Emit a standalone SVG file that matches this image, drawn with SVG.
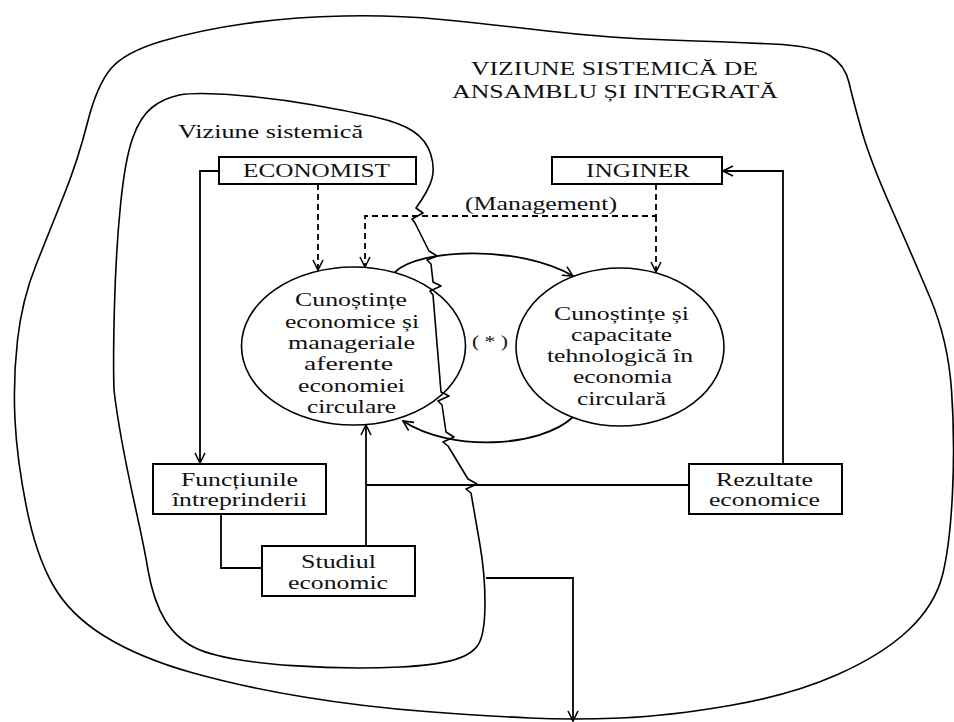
<svg xmlns="http://www.w3.org/2000/svg" width="954" height="722" viewBox="0 0 954 722">
  <style>
    .bound { fill: none; stroke: #000; stroke-width: 1.6; stroke-linejoin: round; }
    .box { fill: #fff; stroke: #000; stroke-width: 2; }
    .oval { fill: none; stroke: #000; stroke-width: 1.6; }
    .line { fill: none; stroke: #000; stroke-width: 1.8; }
    .dash { fill: none; stroke: #000; stroke-width: 1.8; stroke-dasharray: 6 4; }
    text { font-family: "Liberation Serif", "Times New Roman", serif; font-size: 19px; fill: #111; }
    .small { font-size: 16px; }
  </style>
  <defs>
    <marker id="arrow" viewBox="0 0 12 12" refX="11" refY="6" markerWidth="12" markerHeight="12" markerUnits="userSpaceOnUse" orient="auto">
      <path d="M1,1 L11,6 L1,11" fill="none" stroke="#000" stroke-width="1.6" stroke-dasharray="none"/>
    </marker>
  </defs>
  <rect width="954" height="722" fill="#fff"/>

  <!-- outer region: integrated systemic view -->
  <g id="outer-region">
    <path class="bound" d="M 17.5,340 Q 22,300 36,265 Q 50,230 64,195 Q 78,160 87.5,122.5 Q 97,85 111,68.5 Q 125,52 162.5,41 Q 200,30 246,23.5 Q 292,17 343.5,16 Q 395,15 441,19.5 Q 487,24 547.5,31 Q 608,38 669,40 Q 730,42 772.5,44 Q 815,46 830,55.5 Q 845,65 849,82.5 Q 853,100 861.5,130 Q 870,160 891,207.5 Q 912,255 930,297.5 Q 948,340 951.5,390 Q 955,440 952.5,492.5 Q 950,545 942.5,575 Q 935,605 908.5,630 Q 882,655 836.5,675 Q 791,695 730,705.5 Q 669,716 620.5,718 Q 572,720 529.5,718 Q 487,716 426,711.5 Q 365,707 304,697 Q 243,687 191.5,672.5 Q 140,658 105,636.5 Q 70,615 53,585 Q 36,555 26.5,507.5 Q 17,460 15,420 Q 13,380 17.5,340 Z"/>
    <text x="471" y="75" textLength="287" lengthAdjust="spacingAndGlyphs">VIZIUNE SISTEMICĂ DE</text>
    <text x="452" y="98" textLength="326" lengthAdjust="spacingAndGlyphs">ANSAMBLU ȘI INTEGRATĂ</text>
  </g>

  <!-- inner region: systemic view, with break marks where lines cross it -->
  <g id="inner-region">
    <path class="bound" d="M 114,390 Q 113,360 114.5,305 Q 116,250 120.5,205 Q 125,160 132.5,138.5 Q 140,117 152,107.5 Q 164,98 179.5,95 Q 195,92 234.5,95 Q 274,98 313.5,105 Q 353,112 377,117.5 Q 401,123 413.5,131.5 Q 426,140 430.5,153.5 Q 435,167 432,178.5 Q 429,190 416,208 L 423,213 L 412,219 L 415,223 L 429,251 L 437,256 L 427,260 L 431,264 L 433,282 L 441,286 L 430,291 L 433,295 L 441,392 L 449,396 L 438,401 L 442,405 L 446,432 L 454,437 L 443,442 L 448,446 L 468,479 L 477,484 L 466,489 L 471,493 L 480,545 C 486,580 488,630 478,645 C 468,660 440,665 400,667 C 340,670 240,666 200,650 C 170,638 155,610 148,570 C 140,520 122,460 114,390 Z"/>
    <text x="178" y="138" textLength="185" lengthAdjust="spacingAndGlyphs">Viziune sistemică</text>
  </g>

  <!-- connectors -->
  <g id="connectors">
    <!-- ECONOMIST to Funcțiunile întreprinderii -->
    <path class="line" d="M 219,171 L 200,171 L 200,463" marker-end="url(#arrow)"/>
    <!-- Funcțiunile to Studiul economic -->
    <path class="line" d="M 221,514 L 221,568 L 262,568"/>
    <!-- Studiul economic to economic knowledge -->
    <path class="line" d="M 366,546 L 366,425" marker-end="url(#arrow)"/>
    <!-- Rezultate economice feed -->
    <path class="line" d="M 689,485 L 366,485"/>
    <path class="line" d="M 783,464 L 783,171 L 723,171" marker-end="url(#arrow)"/>
    <!-- output leaving the inner region -->
    <path class="line" d="M 486,578 L 573,578 L 573,721" marker-end="url(#arrow)"/>
    <!-- dashed influence lines -->
    <path class="dash" d="M 318,184 L 318,270" marker-end="url(#arrow)"/>
    <path class="dash" d="M 656,184 L 656,216 L 365,216 L 365,267" marker-end="url(#arrow)"/>
    <path class="dash" d="M 656,216 L 656,272" marker-end="url(#arrow)"/>
    <text x="465" y="210" textLength="152" lengthAdjust="spacingAndGlyphs">(Management)</text>
    <!-- exchange between the two knowledge areas -->
    <path class="line" d="M 395,272 C 420,248 520,245 573,276" marker-end="url(#arrow)"/>
    <path class="line" d="M 573,417 C 540,448 450,452 403,421" marker-end="url(#arrow)"/>
    <text class="small" x="472" y="347" textLength="36" lengthAdjust="spacingAndGlyphs">( * )</text>
  </g>

  <g id="economist">
    <rect class="box" x="219" y="157" width="197" height="27"/>
    <text x="243" y="177" textLength="147" lengthAdjust="spacingAndGlyphs">ECONOMIST</text>
  </g>

  <g id="inginer">
    <rect class="box" x="552" y="157" width="170" height="27"/>
    <text x="586" y="177" textLength="104" lengthAdjust="spacingAndGlyphs">INGINER</text>
  </g>

  <g id="economic-knowledge">
    <ellipse class="oval" cx="353.5" cy="346" rx="112" ry="79"/>
    <text x="295" y="306" textLength="112" lengthAdjust="spacingAndGlyphs">Cunoștințe</text>
    <text x="285" y="328" textLength="134" lengthAdjust="spacingAndGlyphs">economice și</text>
    <text x="288" y="349" textLength="127" lengthAdjust="spacingAndGlyphs">manageriale</text>
    <text x="304" y="370" textLength="89" lengthAdjust="spacingAndGlyphs">aferente</text>
    <text x="298" y="392" textLength="107" lengthAdjust="spacingAndGlyphs">economiei</text>
    <text x="307" y="413" textLength="89" lengthAdjust="spacingAndGlyphs">circulare</text>
  </g>

  <g id="technological-knowledge">
    <ellipse class="oval" cx="620" cy="347" rx="104" ry="79"/>
    <text x="554" y="320" textLength="135" lengthAdjust="spacingAndGlyphs">Cunoștințe și</text>
    <text x="571" y="341" textLength="101" lengthAdjust="spacingAndGlyphs">capacitate</text>
    <text x="547" y="362" textLength="146" lengthAdjust="spacingAndGlyphs">tehnologică în</text>
    <text x="573" y="383" textLength="99" lengthAdjust="spacingAndGlyphs">economia</text>
    <text x="577" y="405" textLength="89" lengthAdjust="spacingAndGlyphs">circulară</text>
  </g>

  <g id="functiunile">
    <rect class="box" x="153" y="464" width="173" height="50"/>
    <text x="181" y="486" textLength="117" lengthAdjust="spacingAndGlyphs">Funcțiunile</text>
    <text x="172" y="506" textLength="135" lengthAdjust="spacingAndGlyphs">întreprinderii</text>
  </g>

  <g id="studiul">
    <rect class="box" x="262" y="546" width="153" height="50"/>
    <text x="301" y="568" textLength="75" lengthAdjust="spacingAndGlyphs">Studiul</text>
    <text x="288" y="589" textLength="100" lengthAdjust="spacingAndGlyphs">economic</text>
  </g>

  <g id="rezultate">
    <rect class="box" x="689" y="464" width="153" height="50"/>
    <text x="716" y="486" textLength="97" lengthAdjust="spacingAndGlyphs">Rezultate</text>
    <text x="709" y="506" textLength="111" lengthAdjust="spacingAndGlyphs">economice</text>
  </g>
</svg>
